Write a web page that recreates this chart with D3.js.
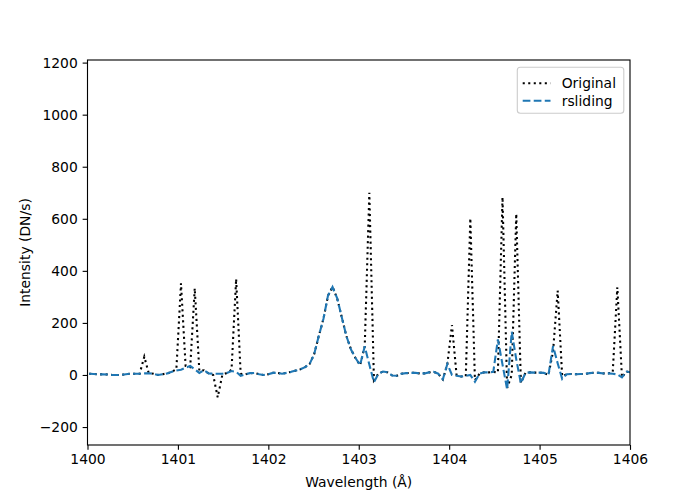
<!DOCTYPE html>
<html>
<head>
<meta charset="utf-8">
<script src="https://cdn.jsdelivr.net/npm/d3@7"></script>
<style>
  body { margin: 0; background: #fff; }
  text { font-family: "DejaVu Sans", sans-serif; }
</style>
</head>
<body>
<script>
// wavelength samples (Angstrom)
var wavelength = [
  1400.018, 1400.069, 1400.120, 1400.170, 1400.221, 1400.272, 1400.323, 1400.374, 1400.424, 1400.475,
  1400.526, 1400.577, 1400.628, 1400.678, 1400.729, 1400.780, 1400.831, 1400.882, 1400.932, 1400.983,
  1401.034, 1401.085, 1401.136, 1401.186, 1401.237, 1401.288, 1401.339, 1401.390, 1401.440, 1401.491,
  1401.542, 1401.593, 1401.644, 1401.694, 1401.745, 1401.796, 1401.847, 1401.898, 1401.948, 1401.999,
  1402.050, 1402.101, 1402.152, 1402.202, 1402.253, 1402.304, 1402.355, 1402.406, 1402.456, 1402.507,
  1402.558, 1402.609, 1402.660, 1402.710, 1402.761, 1402.812, 1402.863, 1402.914, 1402.964, 1403.015,
  1403.066, 1403.117, 1403.168, 1403.218, 1403.269, 1403.320, 1403.371, 1403.422, 1403.472, 1403.523,
  1403.574, 1403.625, 1403.676, 1403.726, 1403.777, 1403.828, 1403.879, 1403.930, 1403.980, 1404.031,
  1404.082, 1404.133, 1404.184, 1404.234, 1404.285, 1404.336, 1404.387, 1404.438, 1404.488, 1404.539,
  1404.590, 1404.641, 1404.692, 1404.742, 1404.793, 1404.844, 1404.895, 1404.946, 1404.996, 1405.047,
  1405.098, 1405.149, 1405.200, 1405.250, 1405.301, 1405.352, 1405.403, 1405.454, 1405.504, 1405.555,
  1405.606, 1405.657, 1405.708, 1405.758, 1405.809, 1405.860, 1405.911, 1405.962, 1406.012
];

var original = [
  5, 4, 2, 3, 2, 0, 0, 0, 3, 5,
  5, 5, 70, 6, 5, 0, 3, 6, 12, 22,
  352, 35, 30, 333, 15, 18, 6, 0, -86, 0,
  8, 20, 369, 5, 2, 7, 8, 3, 0, 3,
  8, 8, 5, 8, 12, 17, 22, 30, 42, 80,
  150, 215, 305, 338, 295, 222, 150, 98, 65, 38,
  109, 700, -20, 5, 13, 10, -2, -3, 5, 7,
  8, 8, 6, 6, 10, 12, 5, -17, 42, 192,
  0, -6, -5, 602, -20, 5, 10, 10, 12, 10,
  683, -50, 0, 619, -30, 8, 10, 9, 9, 8,
  0, 90, 324, -5, 3, 4, 3, 4, 4, 7,
  9, 8, 6, 6, 10, 337, -9, 13, 10
];

var rsliding = [
  5, 4, 2, 3, 2, 0, 0, 0, 3, 5,
  5, 5, 6, 6, 5, 0, 3, 6, 12, 17,
  20, 28, 35, 22, 8, 18, 6, 5, 5, 5,
  8, 15, 12, -3, 2, 7, 8, 3, 0, 3,
  8, 8, 5, 8, 12, 17, 22, 30, 42, 80,
  150, 215, 305, 338, 295, 222, 150, 98, 65, 38,
  110, 40, -28, 5, 13, 10, -2, -3, 5, 7,
  8, 8, 6, 6, 10, 12, 5, -17, 42, 0,
  -3, -6, -3, 0, -26, 5, 10, 10, 12, 137,
  40, -55, 166, 60, -32, 8, 10, 9, 9, 8,
  0, 111, 45, -15, 3, 4, 3, 4, 4, 7,
  9, 8, 6, 6, 5, 2, -9, 13, 10
];

var xTicks = [1400, 1401, 1402, 1403, 1404, 1405, 1406];
var yTicks = [-200, 0, 200, 400, 600, 800, 1000, 1200];
var seriesNames = ["Original", "rsliding"];

var width = 700, height = 500;
var margin = {left: 87.5, right: 70, top: 60, bottom: 55};
var fs = 13.89;
var lw = 2.08;               // 1.5pt at 100 dpi
var dotted = "2.08,3.44";    // matplotlib ':' scaled by lw
var dashed = "7.7,3.33";     // matplotlib '--' scaled by lw

var x = d3.scaleLinear().domain([1400, 1406]).range([margin.left, width - margin.right]);
var y = d3.scaleLinear().domain([-269, 1210]).range([height - margin.bottom, margin.top]);

var svg = d3.select("body").append("svg")
    .attr("width", width)
    .attr("height", height)
    .attr("xmlns", "http://www.w3.org/2000/svg");

svg.append("defs").append("clipPath").attr("id", "clip")
  .append("rect")
    .attr("x", x.range()[0]).attr("y", y.range()[1])
    .attr("width", x.range()[1] - x.range()[0])
    .attr("height", y.range()[0] - y.range()[1]);

var line = d3.line()
    .x(function(d) { return x(d[0]); })
    .y(function(d) { return y(d[1]); });

var plot = svg.append("g").attr("clip-path", "url(#clip)");

plot.append("path")
    .datum(d3.zip(wavelength, original))
    .attr("d", line)
    .attr("fill", "none")
    .attr("stroke", "#000")
    .attr("stroke-width", lw)
    .attr("stroke-dasharray", dotted);

plot.append("path")
    .datum(d3.zip(wavelength, rsliding))
    .attr("d", line)
    .attr("fill", "none")
    .attr("stroke", "#1f77b4")
    .attr("stroke-width", lw)
    .attr("stroke-dasharray", dashed);

// axes
svg.append("g")
    .attr("transform", "translate(0," + y.range()[0] + ")")
    .call(d3.axisBottom(x).tickValues(xTicks).tickFormat(d3.format("d")).tickSizeOuter(0).tickSize(4.86).tickPadding(4.2));

svg.append("g")
    .attr("transform", "translate(" + x.range()[0] + ",0)")
    .call(d3.axisLeft(y).tickValues(yTicks)
      .tickFormat(function(d) { return d < 0 ? "\u2212" + Math.abs(d) : d; })
      .tickSizeOuter(0).tickSize(4.86).tickPadding(4.86));

svg.selectAll(".domain").remove();
svg.selectAll(".tick line").attr("stroke", "#000").attr("stroke-width", 1.11);
svg.selectAll(".tick text")
    .attr("fill", "#000")
    .style("font-size", fs + "px")
    .style("font-family", "DejaVu Sans");

// frame
svg.append("rect")
    .attr("x", x.range()[0]).attr("y", y.range()[1])
    .attr("width", x.range()[1] - x.range()[0])
    .attr("height", y.range()[0] - y.range()[1])
    .attr("fill", "none")
    .attr("stroke", "#000")
    .attr("stroke-width", 1.11);

svg.append("text")
    .attr("x", (x.range()[0] + x.range()[1]) / 2)
    .attr("y", 487)
    .attr("text-anchor", "middle")
    .style("font-size", fs + "px")
    .text("Wavelength (\u00c5)");

svg.append("text")
    .attr("transform", "translate(30," + (y.range()[0] + y.range()[1]) / 2 + ")rotate(-90)")
    .attr("text-anchor", "middle")
    .style("font-size", fs + "px")
    .text("Intensity (DN/s)");

// legend
var legend = svg.append("g");
legend.append("rect")
    .attr("x", 517.3).attr("y", 67.3)
    .attr("width", 106.5).attr("height", 46)
    .attr("rx", 3).attr("ry", 3)
    .attr("fill", "#fff").attr("fill-opacity", 0.8)
    .attr("stroke", "#cccccc").attr("stroke-width", 1.11);

var legendStyles = [
  {color: "#000", dash: dotted},
  {color: "#1f77b4", dash: dashed}
];

seriesNames.forEach(function(name, i) {
  var ly = 83.3 + i * 17.4;
  legend.append("line")
      .attr("x1", 522.7).attr("x2", 550.5)
      .attr("y1", ly).attr("y2", ly)
      .attr("stroke", legendStyles[i].color)
      .attr("stroke-width", lw)
      .attr("stroke-dasharray", legendStyles[i].dash);
  legend.append("text")
      .attr("x", 561.7).attr("y", ly + 5)
      .style("font-size", fs + "px")
      .text(name);
});
</script>
</body>
</html>
